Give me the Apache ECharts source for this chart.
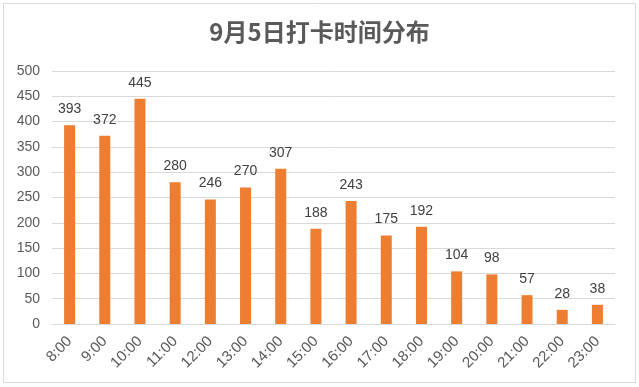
<!DOCTYPE html>
<html><head><meta charset="utf-8">
<script src="https://cdn.jsdelivr.net/npm/echarts@6/dist/echarts.min.js"></script>
<style>html,body{margin:0;padding:0;background:#fff}#c{width:639px;height:387px}</style>
</head><body><div id="c"></div>
<script>
const categories = ['8:00','9:00','10:00','11:00','12:00','13:00','14:00','15:00','16:00','17:00','18:00','19:00','20:00','21:00','22:00','23:00'];
const values = [393,372,445,280,246,270,307,188,243,175,192,104,98,57,28,38];
const titleText = '9月5日打卡时间分布';
const chart = echarts.init(document.getElementById('c'));
chart.setOption({
  animation:false,
  backgroundColor:'#fff',
  title:{text:titleText,left:'center',top:15,textStyle:{fontFamily:'"Noto Sans CJK SC","Liberation Sans",sans-serif',fontSize:24,fontWeight:'bold',color:'#595959'}},
  graphic:[{type:'rect',shape:{x:3.5,y:3.5,width:632,height:379},style:{fill:'none',stroke:'#d9d9d9',lineWidth:1},silent:true}],
  grid:{left:52,right:24,top:71,bottom:63},
  xAxis:{type:'category',data:categories,
    axisLine:{lineStyle:{color:'#d9d9d9'}},axisTick:{show:false},
    axisLabel:{rotate:45,interval:0,color:'#595959',fontSize:15,fontFamily:'"Liberation Sans",Arial,sans-serif',margin:15}},
  yAxis:{type:'value',min:0,max:500,interval:50,
    axisLine:{show:false},axisTick:{show:false},
    splitLine:{lineStyle:{color:'#d9d9d9'}},
    axisLabel:{color:'#595959',fontSize:14,fontFamily:'"Liberation Sans",Arial,sans-serif',margin:12}},
  series:[{type:'bar',data:values,barWidth:11,itemStyle:{color:'#ED7D31'},
    label:{show:true,position:'top',distance:9,color:'#404040',fontSize:14,fontFamily:'"Liberation Sans",Arial,sans-serif'}}]
});
</script></body></html>
